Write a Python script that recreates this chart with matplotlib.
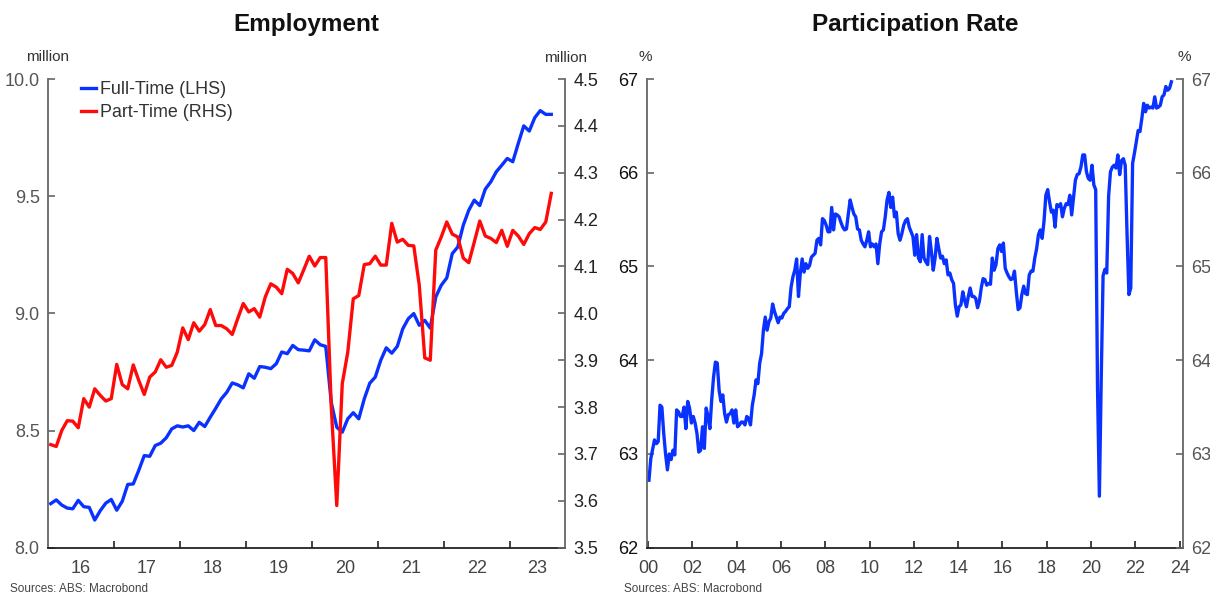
import numpy as np
import matplotlib.pyplot as plt

plt.rcParams['font.family'] = ['Liberation Sans', 'DejaVu Sans']

# Employment, monthly from Jan 2016 (million)
emp_start = 2016
full_time = [
    8.188, 8.204, 8.182, 8.169, 8.166, 8.202, 8.175, 8.172, 8.118, 8.158, 8.190, 8.206,
    8.160, 8.198, 8.270, 8.272, 8.330, 8.393, 8.390, 8.436, 8.446, 8.469, 8.507, 8.520,
    8.515, 8.520, 8.500, 8.535, 8.517, 8.557, 8.595, 8.635, 8.663, 8.703, 8.695, 8.682,
    8.742, 8.723, 8.773, 8.770, 8.764, 8.785, 8.835, 8.828, 8.863, 8.845, 8.843, 8.840,
    8.887, 8.866, 8.859, 8.620, 8.514, 8.493, 8.550, 8.576, 8.550, 8.635, 8.702, 8.728,
    8.800, 8.853, 8.830, 8.859, 8.934, 8.977, 8.999, 8.949, 8.970, 8.937, 9.070, 9.120,
    9.151, 9.255, 9.283, 9.376, 9.440, 9.483, 9.460, 9.530, 9.561, 9.604, 9.632, 9.661,
    9.647, 9.725, 9.800, 9.778, 9.835, 9.865, 9.849, 9.849,
]
part_time = [
    3.720, 3.716, 3.750, 3.771, 3.770, 3.756, 3.818, 3.800, 3.839, 3.825, 3.813, 3.818,
    3.891, 3.848, 3.839, 3.890, 3.857, 3.827, 3.864, 3.875, 3.901, 3.885, 3.889, 3.917,
    3.969, 3.944, 3.980, 3.962, 3.976, 4.008, 3.974, 3.974, 3.967, 3.955, 3.989, 4.021,
    4.003, 4.010, 3.992, 4.035, 4.063, 4.056, 4.042, 4.094, 4.085, 4.065, 4.093, 4.122,
    4.101, 4.119, 4.119, 3.800, 3.590, 3.850, 3.917, 4.031, 4.038, 4.104, 4.106, 4.122,
    4.103, 4.103, 4.192, 4.152, 4.158, 4.145, 4.144, 4.060, 3.905, 3.900, 4.135, 4.163,
    4.195, 4.169, 4.163, 4.118, 4.108, 4.152, 4.197, 4.165, 4.160, 4.151, 4.177, 4.143,
    4.177, 4.165, 4.147, 4.170, 4.183, 4.179, 4.195, 4.256,
]

# Participation rate, monthly from Jan 2000 (%)
pr_start = 2000
part_rate = [
    62.72, 62.95, 63.05, 63.15, 63.11, 63.13, 63.52, 63.50, 63.22, 63.00, 62.83, 63.00,
    62.94, 63.04, 62.99, 63.47, 63.45, 63.40, 63.40, 63.50, 63.27, 63.56, 63.49, 63.33,
    63.40, 63.33, 63.22, 63.02, 63.04, 63.29, 63.06, 63.49, 63.40, 63.27, 63.58, 63.82,
    63.98, 63.97, 63.68, 63.56, 63.63, 63.43, 63.34, 63.42, 63.43, 63.47, 63.33, 63.47,
    63.29, 63.31, 63.34, 63.34, 63.31, 63.40, 63.38, 63.31, 63.52, 63.63, 63.79, 63.75,
    63.97, 64.07, 64.32, 64.46, 64.32, 64.41, 64.45, 64.60, 64.52, 64.46, 64.40, 64.46,
    64.45, 64.50, 64.52, 64.55, 64.57, 64.78, 64.89, 64.96, 65.08, 64.68, 64.93, 65.08,
    64.94, 65.03, 64.98, 65.01, 65.10, 65.12, 65.14, 65.28, 65.30, 65.23, 65.51, 65.49,
    65.44, 65.37, 65.37, 65.63, 65.39, 65.56, 65.55, 65.53, 65.47, 65.42, 65.39, 65.40,
    65.56, 65.71, 65.63, 65.56, 65.53, 65.40, 65.39, 65.28, 65.24, 65.21, 65.28, 65.37,
    65.21, 65.24, 65.21, 65.24, 65.03, 65.24, 65.37, 65.39, 65.53, 65.71, 65.79, 65.63,
    65.74, 65.53, 65.58, 65.35, 65.28, 65.35, 65.44, 65.49, 65.51, 65.42, 65.37, 65.32,
    65.12, 65.34, 65.09, 65.05, 65.34, 65.09, 65.05, 65.02, 65.32, 65.16, 64.96, 65.09,
    65.30, 65.19, 65.09, 65.11, 65.03, 65.07, 64.91, 64.93, 64.86, 64.82, 64.59, 64.47,
    64.57, 64.59, 64.73, 64.64, 64.57, 64.68, 64.77, 64.68, 64.68, 64.66, 64.56, 64.63,
    64.77, 64.87, 64.86, 64.80, 64.82, 64.81, 65.09, 64.96, 65.02, 65.19, 65.23, 65.16,
    65.25, 64.98, 64.93, 64.89, 64.86, 64.87, 64.95, 64.73, 64.54, 64.56, 64.70, 64.79,
    64.71, 64.70, 64.91, 64.95, 64.95, 65.09, 65.19, 65.34, 65.39, 65.30, 65.48, 65.76,
    65.82, 65.69, 65.58, 65.60, 65.42, 65.66, 65.64, 65.67, 65.53, 65.62, 65.67, 65.66,
    65.76, 65.55, 65.73, 65.92, 65.98, 65.99, 66.06, 66.19, 66.19, 66.01, 65.94, 65.92,
    66.08, 65.87, 65.82, 63.70, 62.55, 63.80, 64.90, 64.97, 64.93, 65.75, 66.01, 66.06,
    66.08, 66.05, 66.19, 65.98, 66.13, 66.15, 66.08, 65.34, 64.70, 64.77, 66.10, 66.21,
    66.33, 66.45, 66.44, 66.58, 66.74, 66.65, 66.72, 66.69, 66.70, 66.69, 66.81, 66.69,
    66.70, 66.72, 66.81, 66.83, 66.92, 66.88, 66.90, 66.97,
]

blue = '#0a32ff'
red = '#ff0a0a'
W, H = 1210, 594


def box(x0, x1, ytop, ybot):
    return [x0 / W, 1 - ybot / H, (x1 - x0) / W, (ybot - ytop) / H]


def style(ax, side, lab_col):
    for s in ax.spines.values():
        s.set_visible(False)
    ax.spines[side].set_visible(True)
    ax.spines[side].set_color('#666666')
    ax.spines[side].set_linewidth(1.3)
    ax.tick_params(axis='y', direction='in', length=5, width=1.2, color='#666666',
                   labelsize=13, labelcolor=lab_col, pad=6)


fig = plt.figure(figsize=(12.1, 5.94), dpi=100)

# ---- Employment ----
ax1 = fig.add_axes(box(48, 565, 79, 547.7))
ax1b = ax1.twinx()
t_emp = emp_start + (np.arange(len(full_time)) + 0.5) / 12
ax1.plot(t_emp, full_time, color=blue, lw=2.4, label='Full-Time (LHS)')
ax1b.plot(t_emp, part_time, color=red, lw=2.4, label='Part-Time (RHS)')

ax1.set_xlim(2016, 2023.833)
ax1.set_ylim(8.0, 10.0)
ax1b.set_ylim(3.5, 4.5)
ax1.set_yticks([8.0, 8.5, 9.0, 9.5, 10.0])
ax1.set_yticklabels(['8.0', '8.5', '9.0', '9.5', '10.0'])
ax1b.set_yticks(np.arange(3.5, 4.51, 0.1))
ax1b.set_yticklabels([f'{v:.1f}' for v in np.arange(3.5, 4.51, 0.1)])
style(ax1, 'left', '#555555')
style(ax1b, 'right', '#222222')
ax1.spines['bottom'].set_visible(True)
ax1.spines['bottom'].set_color('#222222')
ax1.spines['bottom'].set_linewidth(1.3)

ax1.set_xticks(range(2017, 2024))
ax1.set_xticklabels([])
emp_years = list(range(2016, 2024))
emp_centers = [min(y + 1, 2023.833) / 2 + y / 2 for y in emp_years]
ax1.set_xticks(emp_centers, minor=True)
ax1.set_xticklabels([str(y)[2:] for y in emp_years], minor=True)
ax1.tick_params(axis='x', which='major', direction='in', length=5, width=1.2, color='#222222')
ax1.tick_params(axis='x', which='minor', length=0, labelsize=13, labelcolor='#444444', pad=9)

h1, l1 = ax1.get_legend_handles_labels()
h2, l2 = ax1b.get_legend_handles_labels()
ax1b.legend(h1 + h2, l1 + l2, loc='upper left', bbox_to_anchor=(0.05, 1.01), frameon=False,
            fontsize=12.9, handlelength=0.85, handletextpad=0.2, labelspacing=0.3,
            labelcolor='#333333', borderaxespad=0)

# ---- Participation Rate ----
ax2 = fig.add_axes(box(646.7, 1183, 79, 547.7))
ax2b = ax2.twinx()
t_pr = pr_start + (np.arange(len(part_rate)) + 0.5) / 12
ax2.plot(t_pr, part_rate, color=blue, lw=2.4)

ax2.set_xlim(1999.94, 2024.15)
for a in (ax2, ax2b):
    a.set_ylim(62, 67)
    a.set_yticks(range(62, 68))
style(ax2, 'left', '#111111')
style(ax2b, 'right', '#555555')
ax2.spines['bottom'].set_visible(True)
ax2.spines['bottom'].set_color('#222222')
ax2.spines['bottom'].set_linewidth(1.3)
pr_years = list(range(2000, 2025, 2))
ax2.set_xticks(pr_years)
ax2.set_xticklabels([str(y)[2:] for y in pr_years])
ax2.tick_params(axis='x', direction='in', length=5, width=1.2, color='#222222',
                labelsize=13, labelcolor='#444444', pad=9)

# ---- texts ----
fig.text(306 / W, 1 - 24 / H, 'Employment', ha='center', va='center', fontsize=17.5,
         fontweight='bold', color='#111111')
fig.text(915 / W, 1 - 24 / H, 'Participation Rate', ha='center', va='center', fontsize=17.5,
         fontweight='bold', color='#111111')
fig.text(48 / W, 1 - 57 / H, 'million', ha='center', va='center', fontsize=11, color='#333333')
fig.text(566 / W, 1 - 58 / H, 'million', ha='center', va='center', fontsize=11, color='#333333')
fig.text(645 / W, 1 - 57 / H, '%', ha='center', va='center', fontsize=11, color='#333333')
fig.text(1184 / W, 1 - 57 / H, '%', ha='center', va='center', fontsize=11, color='#333333')
fig.text(10 / W, 1 - 589 / H, 'Sources: ABS: Macrobond', ha='left', va='center', fontsize=8.5,
         color='#444444')
fig.text(624 / W, 1 - 589 / H, 'Sources: ABS: Macrobond', ha='left', va='center', fontsize=8.5,
         color='#444444')

fig.savefig('out.png', dpi=100)
